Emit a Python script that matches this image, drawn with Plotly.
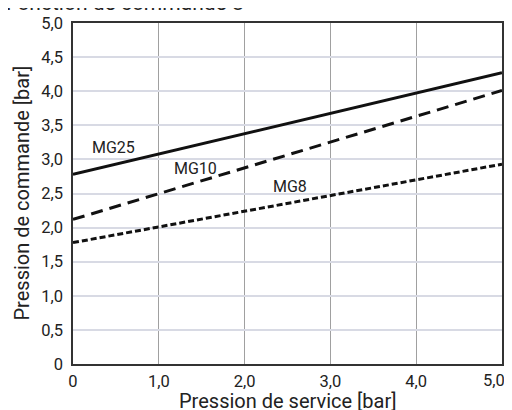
import plotly.graph_objects as go

x_service = [0, 5.0]
mg25 = [2.78, 4.27]
mg10 = [2.12, 4.01]
mg8 = [1.78, 2.93]
series_names = ["MG25", "MG10", "MG8"]
label_x = [0.47, 1.43, 2.53]
label_y = [3.18, 2.87, 2.61]
x_tickvals = [0, 1, 2, 3, 4]
x_ticktext = ["0", "1,0", "2,0", "3,0", "4,0"]
x_last_tick = 5
x_last_text = "5,0"
y_tickvals = [0, 0.5, 1, 1.5, 2, 2.5, 3, 3.5, 4, 4.5, 5]
y_ticktext = ["0", "0,5", "1,0", "1,5", "2,0", "2,5", "3,0", "3,5", "4,0", "4,5", "5,0"]

fig = go.Figure()
fig.add_trace(go.Scatter(x=x_service, y=mg25, mode="lines", name=series_names[0],
                         line=dict(color="#111111", width=3)))
fig.add_trace(go.Scatter(x=x_service, y=mg10, mode="lines", name=series_names[1],
                         line=dict(color="#111111", width=3, dash="12px,7px")))
fig.add_trace(go.Scatter(x=x_service, y=mg8, mode="lines", name=series_names[2],
                         line=dict(color="#111111", width=3, dash="6px,3px")))

for name, lx, ly in zip(series_names, label_x, label_y):
    fig.add_annotation(x=lx, y=ly, text=name, showarrow=False,
                       font=dict(size=16, color="#222222"))

# last x tick label, nudged left so it stays inside the window
fig.add_annotation(x=x_last_tick, xref="x", yref="paper", y=-0.047, xanchor="center",
                   yanchor="middle", xshift=-8, text=x_last_text, showarrow=False,
                   font=dict(size=16.5, color="#222222"))

fig.add_annotation(xref="paper", yref="paper", x=-0.16, y=1.019, xanchor="left", yanchor="bottom",
                   text="Fonction de commande 8", showarrow=False,
                   font=dict(size=21, color="#222222"))
fig.add_annotation(xref="paper", yref="paper", x=0.5, y=-0.109, xanchor="center", yanchor="middle",
                   text="Pression de service [bar]", showarrow=False,
                   font=dict(size=20, color="#222222"))
fig.add_annotation(xref="paper", yref="paper", x=-0.1212, y=0.5, xanchor="center", yanchor="middle",
                   text="Pression de commande [bar]", showarrow=False, textangle=-90,
                   font=dict(size=20, color="#222222"))

fig.update_layout(
    width=512, height=410,
    margin=dict(l=65, r=18, t=15, b=54),
    paper_bgcolor="white", plot_bgcolor="white",
    showlegend=False,
    font=dict(family="Roboto", color="#222222"),
    xaxis=dict(range=[0, 5], tickvals=x_tickvals, ticktext=x_ticktext, automargin=False,
               showgrid=True, gridcolor="#a0a0a0", gridwidth=1,
               showline=True, linecolor="#333333", linewidth=1.5, mirror=True,
               zeroline=False, ticks="", tickfont=dict(size=16.5), ticklabelstandoff=1),
    yaxis=dict(range=[0, 5], tickvals=y_tickvals, ticktext=y_ticktext, automargin=False,
               showgrid=True, gridcolor="#d8dae4", gridwidth=1.5,
               showline=True, linecolor="#333333", linewidth=1.5, mirror=True,
               zeroline=False, ticks="", tickfont=dict(size=16.5), ticklabelstandoff=5),
)

fig.write_html("out.html")
